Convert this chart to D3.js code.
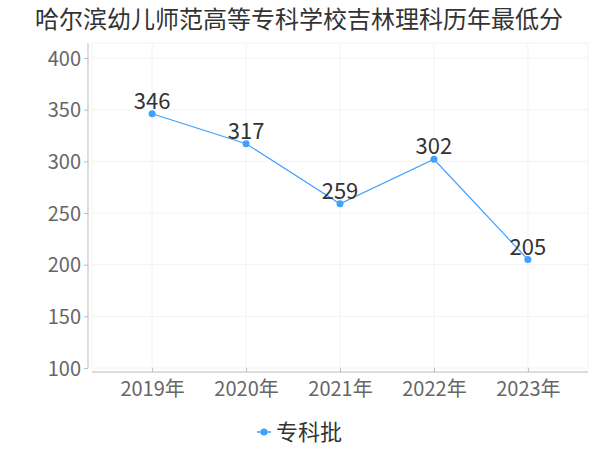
<!DOCTYPE html>
<html><head><meta charset="utf-8">
<script src="https://cdn.jsdelivr.net/npm/d3@7"></script>
<style>body{margin:0;background:#fff}svg{display:block}</style>
</head><body>
<svg id="c" width="600" height="450"></svg>
<script>
const title = "哈尔滨幼儿师范高等专科学校吉林理科历年最低分";
const categories = ["2019年","2020年","2021年","2022年","2023年"];
const values = [346, 317, 259, 302, 205];
const yTicks = [100,150,200,250,300,350,400];
const seriesName = "专科批";

(function(){
const font = "'Noto Sans CJK SC','Noto Sans',sans-serif";
const color = "#3fa0ff";
const svg = d3.select("#c");
const pL = 92, pR = 588, pT = 43, pB = 368;
const x = d3.scalePoint().domain(categories).range([pL, pR]).padding(0.64);
const y = d3.scaleLinear().domain([100,400]).range([368,58]);

svg.append("text").attr("x",299).attr("y",28).attr("text-anchor","middle")
  .attr("font-family",font).attr("font-size",24).attr("fill","#333").text(title);

// grid
const g = svg.append("g");
g.selectAll(".hg").data(yTicks).enter().append("line")
  .attr("x1",pL).attr("x2",pR).attr("y1",d=>y(d)).attr("y2",d=>y(d))
  .attr("stroke","#f2f2f2").attr("stroke-width",1);
g.append("line").attr("x1",pL).attr("x2",pR).attr("y1",pT).attr("y2",pT).attr("stroke","#f2f2f2");
const vx = [pL, ...categories.map(c=>x(c)), pR];
g.selectAll(".vg").data(vx).enter().append("line")
  .attr("x1",d=>d).attr("x2",d=>d).attr("y1",pT).attr("y2",pB)
  .attr("stroke","#f2f2f2");

// y axis
const ya = svg.append("g").attr("transform","translate(88,0)")
  .call(d3.axisLeft(y).tickValues(yTicks).tickSize(4).tickPadding(3));
ya.select(".domain").attr("d",`M0,${pT}V${pB}`).attr("stroke","#bbb");
ya.selectAll(".tick line").attr("stroke","#bbb");
ya.selectAll("text").attr("font-family",font).attr("font-size",20).attr("fill","#666").attr("dy","0.35em");

// x axis
const xa = svg.append("g").attr("transform","translate(0,372)")
  .call(d3.axisBottom(x).tickSize(4).tickPadding(6));
xa.select(".domain").attr("d",`M${pL},0H${pR}`).attr("stroke","#bbb");
xa.selectAll(".tick line").attr("stroke","#bbb").attr("y1",-4).attr("y2",0);
xa.selectAll("text").attr("font-family",font).attr("font-size",20).attr("fill","#666");

// line
const data = categories.map((c,i)=>({c, v: values[i]}));
svg.append("path").datum(data)
  .attr("d", d3.line().x(d=>x(d.c)).y(d=>y(d.v)))
  .attr("fill","none").attr("stroke",color).attr("stroke-width",1.2);
svg.selectAll(".pt").data(data).enter().append("circle")
  .attr("cx",d=>x(d.c)).attr("cy",d=>y(d.v)).attr("r",3.5).attr("fill",color);
svg.selectAll(".lb").data(data).enter().append("text")
  .attr("x",d=>x(d.c)).attr("y",d=>y(d.v)-5).attr("text-anchor","middle")
  .attr("font-family",font).attr("font-size",22).attr("fill","#333").text(d=>d.v);

// legend
svg.append("line").attr("x1",257).attr("x2",271).attr("y1",432).attr("y2",432).attr("stroke",color).attr("stroke-width",1.5);
svg.append("circle").attr("cx",264).attr("cy",432).attr("r",3.5).attr("fill",color);
svg.append("text").attr("x",276).attr("y",440).attr("font-family",font).attr("font-size",22).attr("fill","#333").text(seriesName);
})();
</script>
</body></html>
